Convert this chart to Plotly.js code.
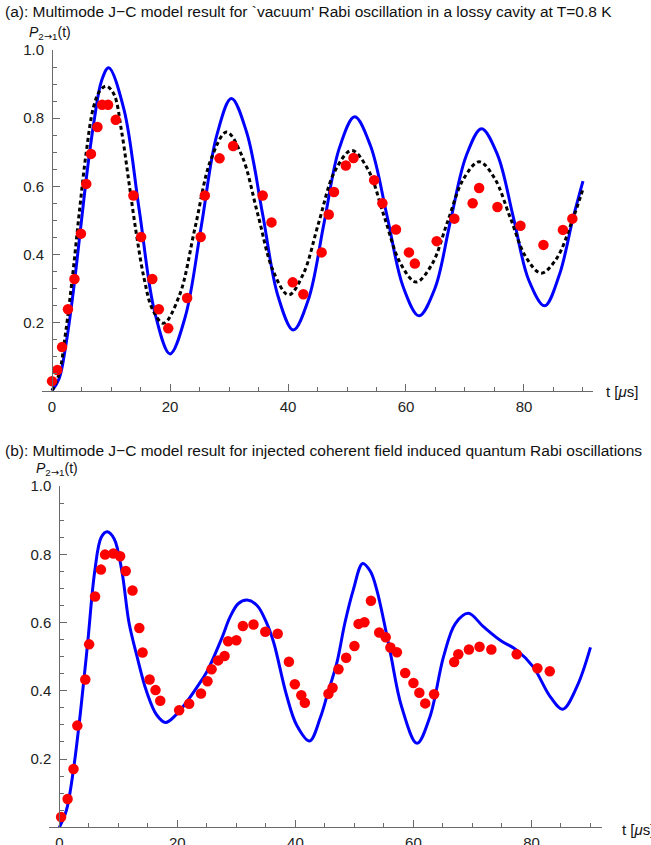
<!DOCTYPE html>
<html>
<head>
<meta charset="utf-8">
<script src="https://cdn.plot.ly/plotly-3.0.1.min.js"></script>
<style>html,body{margin:0;padding:0;background:#fff}#chart{width:651px;height:845px}</style>
</head>
<body>
<div id="chart"></div>
<script>
// ---------- Panel (a): data ----------
const aDataT = [0.0, 0.9, 1.7, 2.7, 3.8, 4.9, 5.8, 6.6, 7.7, 8.5, 9.5, 10.8, 13.8, 15.1, 17.0, 18.1, 19.7, 22.9, 25.2, 25.9, 28.4, 30.7, 35.7, 37.2, 40.8, 42.6, 45.7, 46.9, 47.8, 49.8, 51.1, 54.6, 56.0, 58.3, 60.5, 61.5, 65.2, 68.2, 71.3, 72.4, 75.5, 79.4, 83.3, 86.6, 88.2];
const aDataP = [0.028, 0.061, 0.128, 0.239, 0.328, 0.461, 0.607, 0.695, 0.774, 0.839, 0.839, 0.795, 0.573, 0.451, 0.328, 0.239, 0.183, 0.272, 0.451, 0.573, 0.682, 0.718, 0.573, 0.494, 0.318, 0.283, 0.406, 0.517, 0.583, 0.661, 0.683, 0.618, 0.55, 0.473, 0.406, 0.373, 0.439, 0.505, 0.55, 0.595, 0.539, 0.484, 0.428, 0.472, 0.505];

const aBlueT = [0, 1.2, 2.4, 3.6, 4.8, 6.0, 7.2, 8.4, 9.6, 12.2, 14.8, 17.4, 20.0, 22.6, 25.3, 27.9, 30.4, 33.0, 35.7, 38.3, 40.9, 43.5, 46.1, 48.7, 51.3, 54.0, 56.8, 59.5, 62.2, 64.9, 67.5, 70.2, 72.8, 75.5, 78.2, 80.8, 83.5, 86.0, 88.3, 90.0];
const aBlueP = [0, 0.035, 0.14, 0.29, 0.47, 0.65, 0.80, 0.91, 0.948, 0.825, 0.528, 0.231, 0.108, 0.218, 0.483, 0.748, 0.858, 0.758, 0.518, 0.278, 0.178, 0.27, 0.491, 0.712, 0.804, 0.718, 0.512, 0.306, 0.22, 0.30, 0.495, 0.689, 0.769, 0.693, 0.509, 0.325, 0.249, 0.34, 0.505, 0.615];

const aBlackT = [0, 1.2, 2.3, 3.5, 4.6, 5.8, 7.0, 8.1, 9.2, 10.5, 11.8, 13.05, 14.3, 15.6, 17.0, 18.9, 21.6, 24.25, 26.9, 29.6, 32.2, 34.85, 37.5, 40.1, 42.6, 45.2, 47.9, 50.8, 53.6, 56.3, 59.0, 61.7, 64.4, 67.05, 69.7, 72.4, 75.0, 77.65, 80.3, 82.9, 85.5, 88.2, 90.0];
const aBlackP = [0, 0.05, 0.17, 0.34, 0.52, 0.70, 0.83, 0.88, 0.894, 0.87, 0.76, 0.61, 0.46, 0.33, 0.24, 0.198, 0.28, 0.479, 0.677, 0.759, 0.689, 0.52, 0.351, 0.281, 0.343, 0.493, 0.643, 0.705, 0.648, 0.512, 0.376, 0.319, 0.371, 0.496, 0.62, 0.672, 0.624, 0.509, 0.393, 0.345, 0.387, 0.50, 0.592];

// ---------- Panel (b): data ----------
const bDataT = [0.3, 1.4, 2.4, 3.05, 4.4, 5.05, 6.05, 7.05, 7.75, 9.15, 10.3, 11.25, 12.4, 13.55, 14.1, 15.3, 16.3, 17.1, 20.3, 22.0, 24.0, 25.1, 25.8, 26.9, 28.0, 28.6, 30.0, 31.1, 32.9, 34.9, 37.0, 38.9, 39.9, 41.0, 41.6, 45.6, 46.3, 47.3, 48.6, 50.0, 50.7, 51.7, 52.8, 54.2, 55.3, 56.1, 57.2, 58.6, 60.0, 61.0, 62.0, 63.5, 66.9, 67.6, 69.4, 71.2, 73.2, 77.5, 81.0, 83.1];
const bDataP = [0.030, 0.083, 0.171, 0.298, 0.433, 0.536, 0.676, 0.755, 0.799, 0.802, 0.794, 0.751, 0.694, 0.584, 0.512, 0.433, 0.402, 0.371, 0.343, 0.362, 0.392, 0.428, 0.463, 0.489, 0.502, 0.545, 0.548, 0.59, 0.594, 0.573, 0.567, 0.485, 0.419, 0.387, 0.365, 0.391, 0.409, 0.463, 0.497, 0.531, 0.596, 0.601, 0.664, 0.571, 0.557, 0.527, 0.513, 0.452, 0.423, 0.394, 0.363, 0.39, 0.484, 0.507, 0.521, 0.529, 0.521, 0.507, 0.466, 0.457];

const bBlueT = [0, 1.2, 2.4, 3.6, 4.8, 6.0, 7.1, 8.1, 9.3, 10.6, 11.8, 13.1, 14.8, 16.5, 18.0, 19.8, 21.6, 23.3, 25.0, 27.5, 28.9, 30.3, 31.8, 33.5, 35.1, 36.3, 38.5, 40.2, 42.4, 44.2, 45.6, 47.0, 48.4, 49.8, 51.4, 52.7, 53.8, 56.0, 58.0, 60.6, 62.8, 65.1, 67.1, 69.3, 71.9, 74.7, 77.5, 80.3, 83.2, 85.3, 87.7, 90.0];
const bBlueP = [0, 0.05, 0.17, 0.34, 0.54, 0.75, 0.85, 0.866, 0.845, 0.75, 0.60, 0.505, 0.397, 0.329, 0.307, 0.33, 0.368, 0.41, 0.456, 0.553, 0.615, 0.655, 0.666, 0.65, 0.60, 0.543, 0.387, 0.30, 0.253, 0.32, 0.40, 0.48, 0.60, 0.695, 0.773, 0.75, 0.695, 0.519, 0.353, 0.246, 0.324, 0.50, 0.597, 0.627, 0.587, 0.548, 0.519, 0.47, 0.382, 0.346, 0.412, 0.527];

// ---------- labels ----------
const titleA = "(a): Multimode J\u2212C model result for `vacuum' Rabi oscillation in a lossy cavity at T=0.8 K";
const titleB = "(b): Multimode J\u2212C model result for injected coherent field induced quantum Rabi oscillations";
const yLabel = "<i>P</i><sub>2<span style=\"font-family:DejaVu Sans\">\u2192</span>1</sub>(t)";
const xLabel = "t [<i>\u03bc</i>s]";
const xTickVals = [0, 20, 40, 60, 80];
const xTickText = ["0", "20", "40", "60", "80"];
const yTickVals = [0.2, 0.4, 0.6, 0.8, 1.0];
const yTickText = ["0.2", "0.4", "0.6", "0.8", "1.0"];

// ---------- styling / layout ----------
const W = 651, H = 845;
const FONT = "Liberation Sans, Arial, Helvetica, sans-serif";
const AXC = "#6a6a6a";
const px = v => v / W;
const py = v => 1 - v / H;

function curve(x, y, xa, ya, dash, color) {
  return {x, y, xaxis: xa, yaxis: ya, type: 'scatter', mode: 'lines', cliponaxis: false,
    line: {color, width: 3, shape: 'spline', smoothing: 1, dash: dash || 'solid'}, hoverinfo: 'skip'};
}
function dots(x, y, xa, ya) {
  return {x, y, xaxis: xa, yaxis: ya, type: 'scatter', mode: 'markers', cliponaxis: false,
    marker: {color: '#ff0000', size: 10.5, line: {width: 0}}, hoverinfo: 'skip'};
}

const data = [
  curve(aBlueT, aBlueP, 'x', 'y', 'solid', '#0000ff'),
  curve(aBlackT, aBlackP, 'x', 'y', '4px,3px', '#000000'),
  dots(aDataT, aDataP, 'x', 'y'),
  curve(bBlueT, bBlueP, 'x2', 'y2', 'solid', '#0000ff'),
  dots(bDataT, bDataP, 'x2', 'y2')
];

function xax(domain, range, yName) {
  return {domain, range, anchor: yName, showline: true, linecolor: AXC, linewidth: 1,
    showgrid: false, zeroline: false, ticks: 'inside', ticklen: 7, tickwidth: 1, tickcolor: AXC,
    tickmode: 'array', tickvals: xTickVals, ticktext: xTickText,
    minor: {tickmode: 'linear', tick0: 0, dtick: 5, ticks: 'inside', ticklen: 4, tickcolor: AXC, tickwidth: 1, showgrid: false},
    tickfont: {family: FONT, size: 15, color: '#222'}, ticklabelstandoff: 2, fixedrange: true};
}
function yax(domain, pos) {
  return {domain, range: [0, 1], anchor: 'free', position: pos, showline: true, linecolor: AXC, linewidth: 1,
    showgrid: false, zeroline: false, ticks: 'inside', ticklen: 7, tickwidth: 1, tickcolor: AXC,
    tickmode: 'array', tickvals: yTickVals, ticktext: yTickText,
    minor: {tickmode: 'linear', tick0: 0, dtick: 0.05, ticks: 'inside', ticklen: 4, tickcolor: AXC, tickwidth: 1, showgrid: false},
    tickfont: {family: FONT, size: 15, color: '#222'}, ticklabelstandoff: 5, fixedrange: true};
}
function ann(text, x, y, size) {
  return {text, x: px(x), y: py(y), xref: 'paper', yref: 'paper', xanchor: 'left', yanchor: 'middle',
    showarrow: false, font: {family: FONT, size, color: '#111'}};
}

const layout = {
  width: W, height: H, margin: {l: 0, r: 0, t: 0, b: 0},
  paper_bgcolor: '#fff', plot_bgcolor: 'rgba(0,0,0,0)', showlegend: false,
  xaxis: xax([px(42), px(593)], [-1.7, 91.7], 'y'),
  yaxis: yax([py(390.7), py(50)], px(52)),
  xaxis2: xax([px(49.3), px(601.7)], [-1.7, 91.9], 'y2'),
  yaxis2: yax([py(827.3), py(486)], px(59.3)),
  annotations: [
    ann(titleA, 3, 12, 15.5),
    ann(yLabel, 27, 33, 14),
    ann(xLabel, 604, 391, 15),
    ann(titleB, 3, 450, 15.5),
    ann(yLabel, 34, 469, 14),
    ann(xLabel, 620, 829, 15)
  ]
};

Plotly.newPlot('chart', data, layout, {staticPlot: true, displayModeBar: false});
</script>
</body>
</html>
